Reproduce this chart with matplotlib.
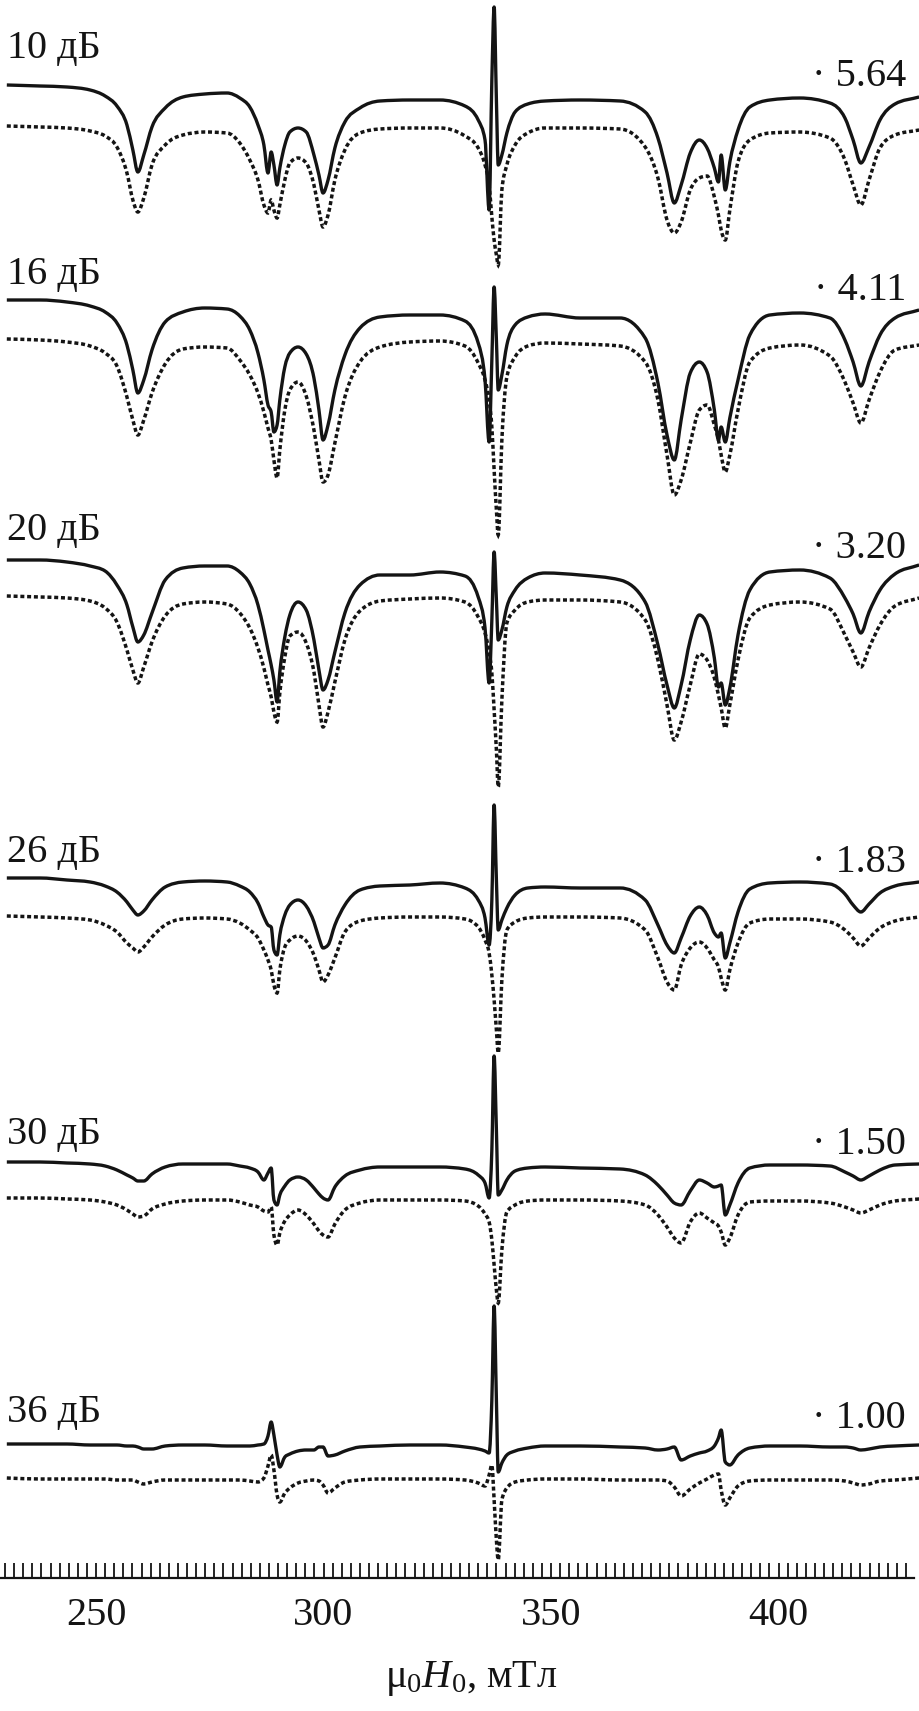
import matplotlib
matplotlib.use('Agg')
import matplotlib.pyplot as plt
import numpy as np
from matplotlib.path import Path
from matplotlib.patches import PathPatch
from matplotlib.ticker import MultipleLocator, FixedLocator

plt.rcParams['font.family'] = ['Liberation Serif', 'DejaVu Serif']
plt.rcParams['mathtext.fontset'] = 'custom'
plt.rcParams['mathtext.rm'] = 'Liberation Serif'
plt.rcParams['mathtext.it'] = 'Liberation Serif:italic'

# ---------------- data ----------------
field_mT = [230.4, 237.7, 243.6, 248.7, 252.0, 254.6, 256.8, 258.1, 259.2, 260.5,
            262.3, 265.2, 269.1, 273.9, 278.8, 281.6, 283.8, 285.6, 286.9, 287.8,
            288.5, 289.1, 289.8, 290.4, 291.5, 292.6, 294.4, 296.2, 297.9, 299.0,
            299.9, 301.0, 302.5, 304.7, 308.0, 312.4, 319.0, 325.6, 331.1, 334.0,
            335.5, 336.4, 337.0, 337.5, 338.0, 338.4, 339.2, 340.3, 342.1, 344.9,
            348.7, 356.4, 365.2, 370.7, 373.5, 375.5, 377.1, 378.6, 380.6, 382.6,
            384.3, 385.9, 386.8, 387.4, 388.3, 389.3, 391.1, 393.7, 398.1, 404.7,
            411.3, 414.6, 416.4, 418.1, 419.9, 422.3, 425.6, 430.9]

attenuation_labels = ['10 дБ', '16 дБ', '20 дБ', '26 дБ', '30 дБ', '36 дБ']
scale_factors = ['5.64', '4.11', '3.20', '1.83', '1.50', '1.00']

solid_10dB = [0, -1, -2, -5, -11, -21, -40, -65, -87, -70,
              -42, -23, -12, -9, -8, -13, -22, -40, -60, -88,
              -67, -80, -100, -83, -60, -47, -43, -47, -70, -90,
              -108, -95, -63, -37, -23, -16, -15, -15, -21, -35,
              -55, -125, 5, 78, -15, -80, -70, -48, -27, -19,
              -16, -15, -16, -27, -53, -88, -118, -100, -68, -55,
              -63, -83, -97, -70, -105, -77, -45, -22, -15, -13,
              -18, -33, -55, -78, -62, -35, -19, -12]
dotted_10dB = [0, -1, -2, -5, -10, -21, -47, -74, -86, -72,
               -39, -19, -9, -6, -7, -17, -34, -54, -79, -87,
               -74, -84, -92, -79, -54, -37, -32, -37, -59, -84,
               -101, -89, -54, -24, -7, -3, -2, -2, -10, -22,
               -39, -59, -91, -114, -129, -139, -64, -39, -19, -7,
               -2, -2, -3, -21, -52, -94, -107, -96, -64, -52,
               -50, -71, -89, -104, -114, -84, -36, -14, -7, -6,
               -12, -34, -59, -79, -54, -22, -9, -4]
solid_16dB = [0, 0, -2, -6, -12, -23, -45, -70, -93, -80,
              -50, -22, -12, -8, -9, -16, -30, -53, -80, -105,
              -112, -132, -125, -100, -67, -53, -47, -54, -78, -110,
              -140, -125, -90, -55, -28, -17, -15, -15, -21, -43,
              -80, -142, -60, 13, -40, -90, -75, -45, -25, -17,
              -14, -18, -18, -38, -83, -135, -160, -120, -73, -62,
              -72, -110, -140, -127, -142, -118, -80, -35, -15, -13,
              -18, -40, -62, -86, -62, -35, -18, -10]
dotted_16dB = [0, -1, -3, -7, -14, -27, -58, -81, -96, -81,
               -54, -25, -10, -8, -9, -21, -36, -54, -73, -89,
               -101, -121, -139, -111, -71, -51, -43, -57, -91, -121,
               -143, -136, -104, -58, -23, -8, -3, -2, -7, -24,
               -41, -61, -88, -131, -171, -196, -101, -38, -18, -7,
               -4, -5, -7, -23, -61, -116, -156, -141, -104, -71,
               -66, -86, -101, -116, -133, -116, -71, -23, -9, -6,
               -17, -43, -64, -84, -61, -33, -11, -6]
solid_20dB = [0, 0, -2, -6, -11, -25, -45, -67, -82, -75,
              -53, -20, -8, -6, -6, -12, -24, -45, -70, -90,
              -105, -120, -142, -112, -77, -55, -42, -50, -80, -110,
              -130, -120, -92, -53, -25, -15, -15, -12, -16, -37,
              -68, -123, -60, 8, -40, -80, -70, -47, -30, -18,
              -13, -15, -20, -42, -85, -125, -148, -125, -80, -55,
              -64, -98, -127, -123, -145, -128, -75, -30, -12, -10,
              -18, -38, -54, -73, -52, -30, -14, -5]
dotted_20dB = [0, -1, -2, -5, -12, -26, -54, -74, -87, -71,
               -46, -20, -8, -6, -8, -17, -32, -52, -72, -89,
               -101, -116, -126, -97, -61, -40, -36, -47, -76, -109,
               -131, -116, -86, -44, -15, -5, -3, -2, -6, -21,
               -37, -56, -77, -114, -154, -191, -104, -27, -14, -6,
               -4, -4, -6, -24, -64, -109, -144, -126, -89, -58,
               -64, -82, -99, -112, -132, -109, -64, -22, -9, -6,
               -13, -39, -56, -71, -52, -29, -10, -2]
solid_26dB = [0, 0, -2, -4, -8, -14, -24, -32, -37, -33,
              -22, -9, -4, -3, -4, -8, -14, -25, -39, -47,
              -49, -72, -77, -57, -37, -27, -22, -28, -44, -60,
              -70, -67, -47, -27, -12, -8, -7, -5, -10, -22,
              -40, -67, -22, 73, -2, -52, -42, -30, -17, -10,
              -9, -10, -10, -22, -47, -67, -75, -60, -38, -29,
              -37, -55, -59, -55, -80, -65, -34, -11, -5, -4,
              -6, -16, -27, -34, -26, -15, -8, -4]
dotted_26dB = [0, -1, -2, -4, -9, -16, -27, -32, -36, -31,
               -21, -9, -3, -2, -3, -7, -14, -22, -34, -44,
               -54, -69, -77, -54, -31, -24, -20, -25, -39, -54,
               -66, -59, -42, -16, -5, -2, -1, -1, -3, -11,
               -24, -37, -59, -84, -114, -137, -64, -14, -6, -2,
               -1, -1, -2, -14, -42, -66, -74, -49, -32, -26,
               -32, -44, -51, -62, -74, -54, -27, -7, -3, -3,
               -6, -14, -22, -30, -22, -12, -5, -1]
solid_30dB = [0, 0, -1, -2, -4, -8, -13, -16, -19, -19,
              -12, -5, -2, -2, -2, -4, -6, -10, -18, -11,
              -6, -38, -43, -33, -24, -18, -15, -18, -26, -32,
              -36, -38, -25, -14, -8, -5, -5, -5, -7, -13,
              -21, -36, 12, 106, 32, -33, -28, -18, -9, -6,
              -5, -6, -7, -13, -23, -33, -41, -43, -29, -18,
              -21, -25, -24, -23, -53, -43, -21, -6, -3, -3,
              -4, -10, -14, -18, -14, -8, -3, -2]
dotted_30dB = [0, 0, -1, -2, -4, -7, -12, -16, -19, -18,
               -11, -6, -3, -2, -2, -4, -7, -9, -13, -14,
               -9, -37, -47, -35, -23, -17, -12, -17, -26, -33,
               -37, -39, -26, -12, -5, -2, -2, -2, -3, -8,
               -16, -24, -42, -67, -92, -105, -52, -14, -7, -3,
               -2, -2, -3, -7, -17, -29, -40, -45, -24, -15,
               -20, -25, -28, -34, -47, -40, -17, -4, -3, -3,
               -5, -9, -12, -15, -12, -7, -3, -1]
solid_36dB = [0, 0, 0, -1, -1, -1, -2, -2, -3, -5,
              -5, -2, -1, -1, -2, -2, -2, -1, 0, 8,
              22, 9, -11, -23, -13, -10, -7, -6, -6, -3,
              -3, -12, -11, -7, -3, -2, -1, -1, -3, -5,
              -7, -9, 44, 138, 44, -28, -19, -11, -7, -4,
              -2, -2, -3, -4, -6, -5, -3, -16, -12, -9,
              -7, -2, 6, 14, -18, -21, -11, -4, -2, -2,
              -3, -3, -4, -6, -5, -3, -2, -1]
dotted_36dB = [0, -1, -1, -1, -1, -2, -2, -2, -4, -6,
               -4, -2, -2, -2, -2, -2, -3, -4, 0, 12,
               23, 8, -17, -24, -15, -10, -5, -3, -2, -3,
               -7, -15, -10, -4, -2, -1, -1, -1, -2, -5,
               -8, 3, 13, -22, -62, -82, -22, -10, -4, -2,
               -1, -1, -2, -2, -2, -3, -9, -18, -11, -5,
               -1, 3, 4, -12, -27, -20, -8, -3, -2, -2,
               -2, -3, -5, -7, -6, -3, -2, 0]

solid_traces = [solid_10dB, solid_16dB, solid_20dB, solid_26dB, solid_30dB, solid_36dB]
dotted_traces = [dotted_10dB, dotted_16dB, dotted_20dB, dotted_26dB, dotted_30dB, dotted_36dB]

# ---------------- layout (pixels of the 919x1711 canvas) ----------------
W, H = 919, 1711
axis_y_px = 1578
axis_right_px = 914
px_per_mT = 4.55
solid_base_px = [85, 300, 560, 878, 1162, 1444]
dotted_base_px = [126, 339, 596, 916, 1198, 1478]
label_y_px = [48, 275, 530, 852, 1135, 1413]
scale_y_px = [77, 291, 548, 862, 1144, 1419]


def smooth_path(x, y):
    """Monotone cubic (d3 'monotoneX' style) Bezier path through the data points."""
    x = np.asarray(x, float)
    y = np.asarray(y, float)
    n = len(x)
    h = np.diff(x)
    s = np.diff(y) / h
    m = np.zeros(n)
    m[0], m[-1] = s[0], s[-1]
    for k in range(1, n - 1):
        s0, s1, h0, h1 = s[k - 1], s[k], h[k - 1], h[k]
        p = (s0 * h1 + s1 * h0) / (h0 + h1)
        m[k] = (np.sign(s0) + np.sign(s1)) * min(abs(s0), abs(s1), 0.5 * abs(p))
    verts = [(x[0], y[0])]
    codes = [Path.MOVETO]
    for k in range(n - 1):
        d = h[k] / 3.0
        verts += [(x[k] + d, y[k] + m[k] * d),
                  (x[k + 1] - d, y[k + 1] - m[k + 1] * d),
                  (x[k + 1], y[k + 1])]
        codes += [Path.CURVE4] * 3
    return Path(verts, codes)


fig = plt.figure(figsize=(W / 100, H / 100), dpi=100)
ax = fig.add_axes([0, (H - axis_y_px) / H, axis_right_px / W, axis_y_px / H])
x_left = 250 - 96 / px_per_mT
ax.set_xlim(x_left, x_left + axis_right_px / px_per_mT)
ax.set_ylim(-axis_y_px, 0)

ink = '#141414'
for i in range(6):
    s = np.array(solid_traces[i], dtype=float) - solid_base_px[i]
    d = np.array(dotted_traces[i], dtype=float) - dotted_base_px[i]
    pd = PathPatch(smooth_path(field_mT, d), fill=False, edgecolor=ink, lw=2.5,
                   linestyle=(0, (1.15, 0.8)), clip_on=False)
    pd.set_capstyle('butt')
    ax.add_patch(pd)
    ps = PathPatch(smooth_path(field_mT, s), fill=False, edgecolor=ink, lw=2.4,
                   joinstyle='round', clip_on=False)
    ax.add_patch(ps)
    fig.text(7 / W, 1 - label_y_px[i] / H, attenuation_labels[i], ha='left', va='center',
             fontsize=29, color=ink)
    fig.text(906 / W, 1 - scale_y_px[i] / H, '· ' + scale_factors[i], ha='right', va='center',
             fontsize=29, color=ink)

for sp in ['top', 'left', 'right']:
    ax.spines[sp].set_visible(False)
ax.spines['bottom'].set_linewidth(1.6)
ax.spines['bottom'].set_color(ink)
ax.set_yticks([])
ax.xaxis.set_major_locator(FixedLocator([250, 300, 350, 400]))
ax.xaxis.set_minor_locator(MultipleLocator(2))
ax.tick_params(axis='x', which='both', direction='in', length=10.8, width=1.3, color=ink)
ax.tick_params(axis='x', which='major', labelsize=29, pad=14, labelcolor=ink)
ax.patch.set_visible(False)

fig.text(471 / W, 1 - 1678 / H, r'$\mathrm{\mu}_0H_0$, мТл', ha='center', va='center',
         fontsize=29, color=ink)

fig.savefig('out.png', dpi=100)
